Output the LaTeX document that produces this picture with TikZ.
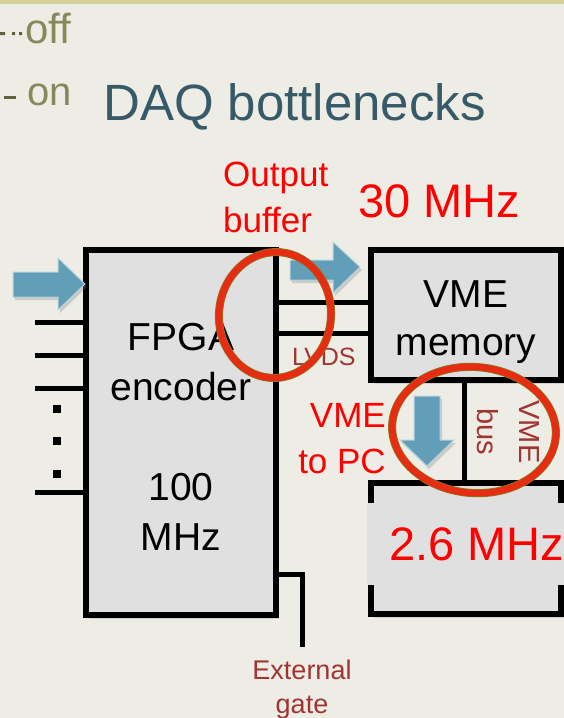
\documentclass[tikz,border=0pt]{standalone}
\usepackage{fontspec}
\setmainfont{Liberation Sans}
\usepackage{xcolor}
\usetikzlibrary{positioning, calc, shadows}

\definecolor{paper}{RGB}{238,237,229}
\definecolor{band}{RGB}{214,208,154}
\definecolor{slate}{RGB}{55,90,105}
\definecolor{olivetext}{RGB}{132,138,90}
\definecolor{olivedark}{RGB}{95,98,60}
\definecolor{brick}{RGB}{160,52,50}
\definecolor{boxgray}{RGB}{224,224,224}
\definecolor{steel}{RGB}{98,158,184}
\definecolor{ringred}{RGB}{230,44,18}
\definecolor{ringedge}{RGB}{140,120,30}

\newcommand{\fsz}[2]{\fontsize{#1}{#2}\selectfont}

\begin{document}
\begin{tikzpicture}[
  x=1pt, y=-1pt,
  wire/.style={line width=5pt},
  block/.style={draw, line width=6pt, fill=boxgray, minimum width=190pt, minimum height=#1,
    inner sep=0pt, align=center, font=\fsz{39}{50},
    drop shadow={opacity=.25, shadow xshift=3pt, shadow yshift=-4pt}},
  bigarrow/.style={fill=steel, draw=steel!45!white, line width=1pt,
    drop shadow={opacity=.3, shadow xshift=2pt, shadow yshift=-3pt}},
  ring/.style={draw=ringedge, line width=.8pt, double=ringred, double distance=6.5pt},
  note/.style={text=red, font=\fsz{35}{46}, inner sep=0pt},
  rate/.style={text=red, font=\fsz{47}{54}, inner sep=0pt},
  tag/.style={text=brick, inner sep=0pt}
]
  \useasboundingbox (0,0) rectangle (564,718);
  \fill[paper] (0,0) rectangle (564,718);
  \fill[band] (0,0) rectangle (564,4);

  \fill[olivedark] (0,32) rectangle (5,35) (12,32) rectangle (15,35) (19,32) rectangle (22,35);
  \fill[olivedark] (4,96) rectangle (16,99);
  \node[anchor=base west, inner sep=0pt, text=olivetext, font=\fsz{42}{50}] (off) at (25,43) {off};
  \node[anchor=base west, inner sep=0pt, text=olivetext, font=\fsz{40}{50}] (on) at (27,105) {on};
  \node[anchor=base west, inner sep=0pt, text=slate, font=\fsz{51}{58}] (title) at (103,120) {DAQ bottlenecks};

  \node[block=365pt, text height=235pt, text depth=0pt] (fpga) at (181,432.5) {FPGA\\encoder\\[50pt]100\\MHz};
  \node[block=130pt, font=\fsz{39}{48}, text height=80pt, text depth=0pt] (memory) at (466,315) {VME\\memory};
  \node[block=131pt] (pcbox) at (466,548.5) {};
  \node[rate, fill=boxgray, anchor=west, minimum height=82pt, inner xsep=22pt] (rate) at (367,544) {2.6 MHz};

  \node[rate, anchor=base west] (fast) at (358,217) {30 MHz};
  \node[note, align=left, anchor=north west] (buffer) at (223,162) {Output\\buffer};
  \node[note, align=right, anchor=north east] (topc) at (386,403) {VME\\to PC};
  \node[tag, font=\fsz{25}{30}, anchor=base west] (lvds) at (292,365) {LVDS};
  \node[tag, font=\fsz{29}{42}, align=center, rotate=-90] (bus) at (508,432) {VME\\bus};

  \foreach \y in {322,355,388,492}
    \draw[wire] (35,\y) -- (fpga.west |- 0,\y);
  \foreach \y in {409,441,474}
    \fill (53,\y-4) rectangle (61,\y+4);

  \draw[wire] (fpga.east |- 0,302) -- (memory.west |- 0,302);
  \draw[wire] (fpga.east |- 0,333) -- (memory.west |- 0,333);
  \draw[wire] (memory.south -| 464,0) -- (pcbox.north -| 464,0);
  \draw[wire] (fpga.east |- 0,574) -| (302,647) coordinate (gate);
  \node[tag, font=\fsz{27}{34}, align=center, below=13pt of gate] (extgate) {External\\gate};

  \draw[bigarrow] (13,272) -- (58,272) -- (58,258) -- (85,284) -- (58,310) -- (58,297) -- (13,297) -- cycle;
  \draw[bigarrow] (290,260) -- (333,260) -- (333,242) -- (360,267) -- (333,293) -- (333,280) -- (290,280) -- cycle;
  \draw[bigarrow] (414,396) -- (440,396) -- (440,440) -- (454,440) -- (427,466) -- (400,440) -- (414,440) -- cycle;

  \draw[ring, rotate around={-5:(275,315)}] (275,315) ellipse [x radius=56, y radius=63];
  \draw[ring, rotate around={-5:(474,430)}] (474,430) ellipse [x radius=82, y radius=63];
\end{tikzpicture}
\end{document}
